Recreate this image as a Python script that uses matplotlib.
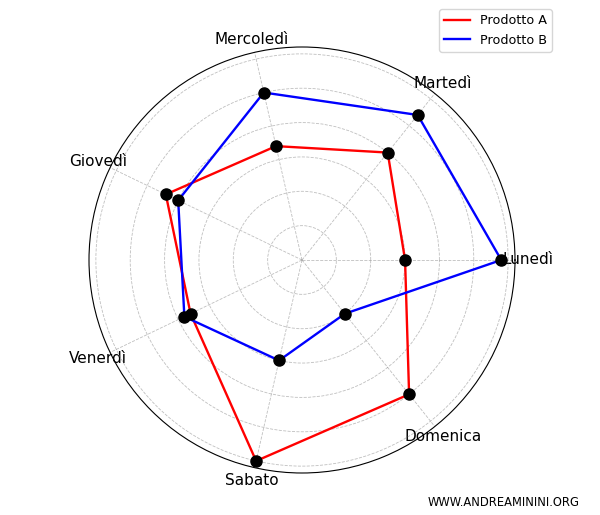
import numpy as np
import matplotlib
matplotlib.use("Agg")
from matplotlib import pyplot as plt

giorni = ["Lunedì", "Martedì", "Mercoledì", "Giovedì", "Venerdì", "Sabato", "Domenica"]
prodotto_a = [30, 40, 34, 44, 36, 60, 50]
prodotto_b = [58, 54, 50, 40, 38, 30, 20]

# angoli per ogni giorno, poi si chiude il poligono
n = len(giorni)
angoli = np.linspace(0, 2 * np.pi, n, endpoint=False).tolist()
angoli_c = angoli + angoli[:1]
a_c = prodotto_a + prodotto_a[:1]
b_c = prodotto_b + prodotto_b[:1]

fig = plt.figure(figsize=(6, 5.15), dpi=100)
ax = fig.add_axes([89 / 600, 42 / 515, 426 / 600, 426 / 515], projection="polar")

ax.plot(angoli_c, a_c, color="red", linewidth=1.7, label="Prodotto A")
ax.plot(angoli_c, b_c, color="blue", linewidth=1.7, label="Prodotto B")
ax.plot(angoli, prodotto_a, "o", color="black", markersize=8)
ax.plot(angoli, prodotto_b, "o", color="black", markersize=8)

ax.set_xticks(angoli)
ax.set_xticklabels(giorni, fontsize=11)
ax.tick_params(axis="x", pad=-1)
ax.set_yticklabels([])
ax.grid(color="gray", linestyle="--", linewidth=0.6, alpha=0.5)

fig.legend(loc="upper right", bbox_to_anchor=(552 / 600, 1 - 9 / 515), fontsize=9.2,
           borderaxespad=0)
fig.text(579 / 600, 1 - 502 / 515, "WWW.ANDREAMININI.ORG", ha="right", va="center", fontsize=8.3)

fig.savefig("out.png", dpi=100)
